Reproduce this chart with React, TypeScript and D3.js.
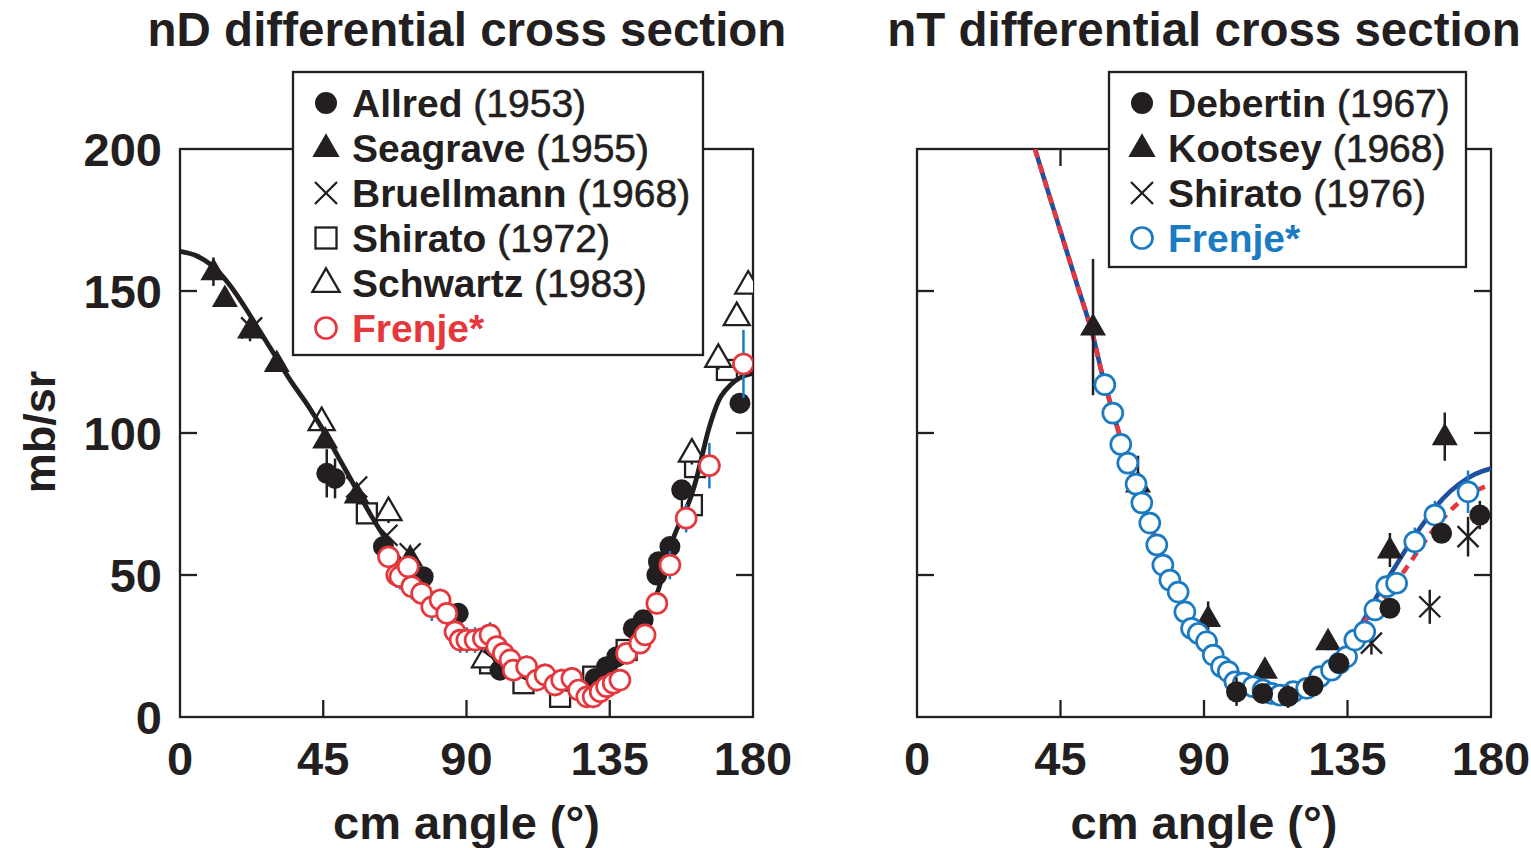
import React from "react";
import * as d3 from "d3";

type Pt = [number, number, number?];

const xTicks = [0, 45, 90, 135, 180];
const yTicks = [0, 50, 100, 150, 200];

// nD panel
const nDCurve: [number, number][] = [
  [0, 164], [5, 162.5], [10, 159], [15, 153], [20, 145], [25, 136], [30, 127], [35, 118],
  [40, 110], [45, 101], [50, 91], [55, 81], [60, 71], [65, 62], [70, 54], [75, 47],
  [80, 40], [85, 34], [90, 29], [95, 24], [100, 20], [105, 16], [110, 13], [115, 11],
  [120, 10], [125, 9.5], [130, 11], [135, 15], [140, 23], [145, 32], [150, 44], [155, 63],
  [160, 76], [162, 83], [164, 92], [166, 101], [168, 108], [170, 113], [173, 117], [176, 119.5], [180, 121],
];
const allred: Pt[] = [
  [46.1, 85.8, 8.5], [48.7, 84, 7], [63.9, 60], [76.4, 49.4], [87.4, 36.5], [100.5, 16.5],
  [130.4, 13.6], [134, 17.7], [137.2, 21.2], [142.4, 31.2], [145.5, 34.2], [149.8, 50],
  [150.3, 54.7], [153.9, 60, 2], [157.6, 80], [175.9, 110.5, 3],
];
const seagrave: Pt[] = [
  [10.5, 156.8, 5], [14.1, 147.4, 2], [22, 136.3, 4], [30.4, 124.5, 2], [45.6, 97.5],
  [55.5, 78.2, 2], [72.3, 56],
];
const bruellmann: Pt[] = [[22.5, 137], [55.5, 81], [65, 64], [72.3, 57.5]];
const shirato72: Pt[] = [
  [58.7, 71.7, 3], [97.4, 18.9], [107.9, 11.9], [119.4, 7.1], [129.8, 14.2], [140.3, 23.6],
  [160.8, 74.6], [161.8, 88], [171.8, 122.2],
];
const schwartz: Pt[] = [
  [44.5, 104, 3], [65.5, 72.3, 4], [95.8, 20.5], [160.8, 92.9, 4], [169.1, 126.3, 4],
  [174.9, 141, 3], [178.5, 152.1, 3],
];
const frenjeD: Pt[] = [
  [65.5, 56.4, 3], [68.1, 50, 4.5], [69.1, 49.4, 4.5], [71.7, 52.9, 3], [72.8, 45.9, 4.5],
  [75.9, 43.5, 4], [79.1, 38.8, 5], [81.7, 41.2, 4], [83.8, 36.5, 4], [86.4, 30, 4.5],
  [88, 27.1, 4.5], [90.1, 27.1, 4.5], [92.7, 27.1, 4.5], [95.3, 27.7, 4.5], [97.4, 28.9, 4.5],
  [99.5, 24.8, 3.5], [101.6, 22.4, 3.5], [103.7, 20.1, 3.5], [104.7, 16.5, 4], [108.9, 17.7, 4],
  [112.1, 13, 4], [114.7, 14.8, 4], [117.8, 11.3, 4], [119.9, 13, 4], [123.1, 13.6, 4],
  [125.2, 9.5, 3], [127.8, 7.1, 4], [129.8, 7.1, 4], [132, 8.9, 3], [134, 10.7, 3],
  [136.1, 11.9, 3], [138.2, 13, 3], [140.3, 22.4, 3], [144.5, 26, 3], [146.1, 28.9, 3],
  [149.8, 40, 3], [153.9, 53.5, 5], [159, 70, 5], [166.3, 88.5, 8], [177, 124.3, 12],
];

// nT panel
const nTBlue: [number, number][] = [
  [37, 200], [40, 189], [45, 171], [50, 153], [55, 135], [58, 121], [61, 109], [65, 94],
  [70, 78], [75, 62], [80, 47], [85, 35], [90, 25], [95, 17.5], [100, 12], [105, 9.5],
  [110, 8], [115, 7.5], [120, 9], [125, 12.5], [130, 17.5], [135, 25], [140, 34], [145, 44],
  [150, 53], [155, 62], [160, 70], [165, 77], [170, 82], [175, 85.5], [180, 87.5],
];
const nTRed: [number, number][] = [
  [37, 200], [40, 189], [45, 171], [50, 153], [55, 135], [58, 121], [61, 109], [65, 94],
  [70, 78], [75, 62], [80, 47], [85, 35], [90, 25], [95, 17.5], [100, 12], [105, 9.5],
  [110, 8], [115, 7.5], [120, 9], [125, 12.5], [130, 17.5], [135, 25], [140, 33], [145, 40],
  [150, 47], [155, 55], [160, 63], [165, 70], [170, 75.5], [175, 79.5], [180, 82],
];
const debertin: Pt[] = [
  [100.2, 8.9, 5], [108.4, 8.3, 3], [116.4, 7.2, 4], [124.2, 10.9], [132.3, 18.9],
  [148.3, 38.3], [164.5, 64.7, 3], [176.5, 71.1, 5],
];
const kootsey: Pt[] = [
  [55.2, 137.3, 24], [69.3, 82, 10], [91.3, 34.7, 6], [109.1, 16.5], [128.9, 26.5, 3],
  [148.3, 58.8, 6], [165.5, 98.7, 8.5],
];
const shirato76: Pt[] = [[142.5, 26, 4], [160.8, 38.8, 6], [172.8, 63.5, 7]];
const frenjeT: Pt[] = [
  [58.9, 117], [61.4, 107], [63.9, 96], [66.1, 89.4], [68.7, 82], [70.5, 75.4], [73, 68.3],
  [75.2, 60.6], [77.1, 53.5], [79.3, 48.2], [81.9, 44], [84, 37], [86.1, 31.2], [88.2, 29.4],
  [90.8, 26.5], [92.9, 21.8], [95.5, 17.7], [97.6, 16], [99.7, 12.4], [102.3, 11.9],
  [105.4, 10.7], [108.5, 9.5], [111.2, 8.3], [113.8, 7.7], [118, 8.9], [122.2, 10.1],
  [126.3, 14.2], [130, 16.5], [132.5, 19], [134.7, 21.2], [137.3, 27.1], [140.4, 30],
  [143.6, 37.7], [147.3, 45.9, 4], [150.4, 47.1], [156.1, 61.7, 5], [162.4, 71.1, 5],
  [172.8, 79.3, 7.5],
];

const INK = "#231f20";
const RED = "#e5383d";
const BLUE = "#1a7bc2";
const NAVY = "#1f4f9e";
const FONT = "'Liberation Sans', Arial, Helvetica, sans-serif";

const TOP = 149, BOTTOM = 717;
const y = d3.scaleLinear().domain([0, 200]).range([BOTTOM, TOP]);
const xL = d3.scaleLinear().domain([0, 180]).range([180, 753]);
const xR = d3.scaleLinear().domain([0, 180]).range([917, 1491]);

type Kind = "dot" | "tri" | "cross" | "square" | "otri" | "ocircle";

const Marker = ({ kind, cx, cy, color = INK, s = 1 }: { kind: Kind; cx: number; cy: number; color?: string; s?: number }) => {
  const tri = `M${cx},${cy - 14 * s}L${cx + 13 * s},${cy + 8.5 * s}L${cx - 13 * s},${cy + 8.5 * s}Z`;
  switch (kind) {
    case "dot":
      return <circle cx={cx} cy={cy} r={10.5 * s} fill={INK} />;
    case "tri":
      return <path d={tri} fill={INK} />;
    case "otri":
      return <path d={tri} fill="white" stroke={INK} strokeWidth={2.3} />;
    case "cross": {
      const h = 10.5 * s;
      return (
        <path d={`M${cx - h},${cy - h}L${cx + h},${cy + h}M${cx - h},${cy + h}L${cx + h},${cy - h}`}
          stroke={INK} strokeWidth={2.3} />
      );
    }
    case "square":
      return <rect x={cx - 10 * s} y={cy - 10 * s} width={20 * s} height={20 * s} fill="white" stroke={INK} strokeWidth={2.3} />;
    case "ocircle":
      return <circle cx={cx} cy={cy} r={10 * s} fill="white" stroke={color} strokeWidth={2.7} />;
  }
};

const Series = ({ data, x, kind, color, barColor = INK }: {
  data: Pt[]; x: d3.ScaleLinear<number, number>; kind: Kind; color?: string; barColor?: string;
}) => (
  <g>
    {data.filter((d) => d[2]).map((d, i) => (
      <line key={"e" + i} x1={x(d[0])} x2={x(d[0])} y1={y(d[1] - (d[2] as number))} y2={y(d[1] + (d[2] as number))}
        stroke={barColor} strokeWidth={2.5} />
    ))}
    {data.map((d, i) => (
      <Marker key={i} kind={kind} cx={x(d[0])} cy={y(d[1])} color={color} />
    ))}
  </g>
);

const Frame = ({ x, showY }: { x: d3.ScaleLinear<number, number>; showY: boolean }) => {
  const [x0, x1] = x.range();
  const T = 17;
  return (
    <g>
      <rect x={x0} y={TOP} width={x1 - x0} height={BOTTOM - TOP} fill="none" stroke={INK} strokeWidth={2.3} />
      {xTicks.slice(1, -1).map((t) => (
        <g key={"xt" + t}>
          <line x1={x(t)} x2={x(t)} y1={BOTTOM} y2={BOTTOM - T} stroke={INK} strokeWidth={2.3} />
          <line x1={x(t)} x2={x(t)} y1={TOP} y2={TOP + T} stroke={INK} strokeWidth={2.3} />
        </g>
      ))}
      {yTicks.slice(1, -1).map((t) => (
        <g key={"yt" + t}>
          <line x1={x0} x2={x0 + T} y1={y(t)} y2={y(t)} stroke={INK} strokeWidth={2.3} />
          <line x1={x1} x2={x1 - T} y1={y(t)} y2={y(t)} stroke={INK} strokeWidth={2.3} />
        </g>
      ))}
      {xTicks.map((t) => (
        <text key={"xl" + t} x={x(t)} y={775} textAnchor="middle" fontSize={47} fontWeight="bold" fill={INK}>{t}</text>
      ))}
      {showY && yTicks.map((t) => (
        <text key={"yl" + t} x={162} y={y(t) + 17} textAnchor="end" fontSize={47} fontWeight="bold" fill={INK}>{t}</text>
      ))}
      <text x={(x0 + x1) / 2} y={839} textAnchor="middle" fontSize={47} fontWeight="bold" fill={INK}>cm angle (°)</text>
    </g>
  );
};

type LegendItem = { kind: Kind; name: string; year?: string; color?: string };

const Legend = ({ x0, y0, w, h, items }: { x0: number; y0: number; w: number; h: number; items: LegendItem[] }) => (
  <g>
    <rect x={x0} y={y0} width={w} height={h} fill="white" stroke={INK} strokeWidth={2.3} />
    {items.map((it, i) => {
      const cy = y0 + 31 + i * 45;
      return (
        <g key={i}>
          <Marker kind={it.kind} cx={x0 + 33} cy={cy} color={it.color} s={1.05} />
          <text x={x0 + 59} y={cy + 14} fontSize={39} fontWeight="bold" fill={it.color || INK}>
            {it.name}
            {it.year && <tspan fontWeight="normal" stroke={INK} strokeWidth={0.6}>{" (" + it.year + ")"}</tspan>}
          </text>
        </g>
      );
    })}
  </g>
);

const App = () => {
  const lineL = d3.line<[number, number]>().x((d) => xL(d[0])).y((d) => y(d[1])).curve(d3.curveCatmullRom.alpha(0.5));
  const lineR = d3.line<[number, number]>().x((d) => xR(d[0])).y((d) => y(d[1])).curve(d3.curveCatmullRom.alpha(0.5));

  return (
    <svg width={1531} height={848} style={{ position: "absolute", left: 0, top: 0, background: "white" }} fontFamily={FONT}>
      <defs>
        <clipPath id="clipL"><rect x={180} y={TOP} width={573} height={BOTTOM - TOP} /></clipPath>
        <clipPath id="clipR"><rect x={917} y={TOP} width={574} height={BOTTOM - TOP} /></clipPath>
      </defs>

      <text x={467} y={46} textAnchor="middle" fontSize={47.5} fontWeight="bold" fill={INK}>nD differential cross section</text>
      <text x={1204} y={46} textAnchor="middle" fontSize={47.5} fontWeight="bold" fill={INK}>nT differential cross section</text>
      <text transform="translate(55,432) rotate(-90)" textAnchor="middle" fontSize={45} fontWeight="bold" fill={INK}>mb/sr</text>

      {/* nD panel */}
      <Frame x={xL} showY={true} />
      <g clipPath="url(#clipL)">
        <Series data={shirato72} x={xL} kind="square" />
        <Series data={schwartz} x={xL} kind="otri" />
        <Series data={allred} x={xL} kind="dot" />
        <Series data={seagrave} x={xL} kind="tri" />
        <Series data={bruellmann} x={xL} kind="cross" />
        <path d={lineL(nDCurve) || ""} fill="none" stroke={INK} strokeWidth={4.8} />
        <Series data={frenjeD} x={xL} kind="ocircle" color={RED} barColor={BLUE} />
      </g>
      <Legend x0={293} y0={72} w={410} h={283} items={[
        { kind: "dot", name: "Allred", year: "1953" },
        { kind: "tri", name: "Seagrave", year: "1955" },
        { kind: "cross", name: "Bruellmann", year: "1968" },
        { kind: "square", name: "Shirato", year: "1972" },
        { kind: "otri", name: "Schwartz", year: "1983" },
        { kind: "ocircle", name: "Frenje*", color: RED },
      ]} />

      {/* nT panel */}
      <Frame x={xR} showY={false} />
      <g clipPath="url(#clipR)">
        <path d={lineR(nTBlue) || ""} fill="none" stroke={NAVY} strokeWidth={4.6} />
        <path d={lineR(nTRed) || ""} fill="none" stroke={RED} strokeWidth={4.6} strokeDasharray="9,7" />
        <Series data={kootsey} x={xR} kind="tri" />
        <Series data={shirato76} x={xR} kind="cross" />
        <Series data={frenjeT} x={xR} kind="ocircle" color={BLUE} barColor={BLUE} />
        <Series data={debertin} x={xR} kind="dot" />
      </g>
      <Legend x0={1109} y0={72} w={357} h={195} items={[
        { kind: "dot", name: "Debertin", year: "1967" },
        { kind: "tri", name: "Kootsey", year: "1968" },
        { kind: "cross", name: "Shirato", year: "1976" },
        { kind: "ocircle", name: "Frenje*", color: BLUE },
      ]} />
    </svg>
  );
};

export default App;
